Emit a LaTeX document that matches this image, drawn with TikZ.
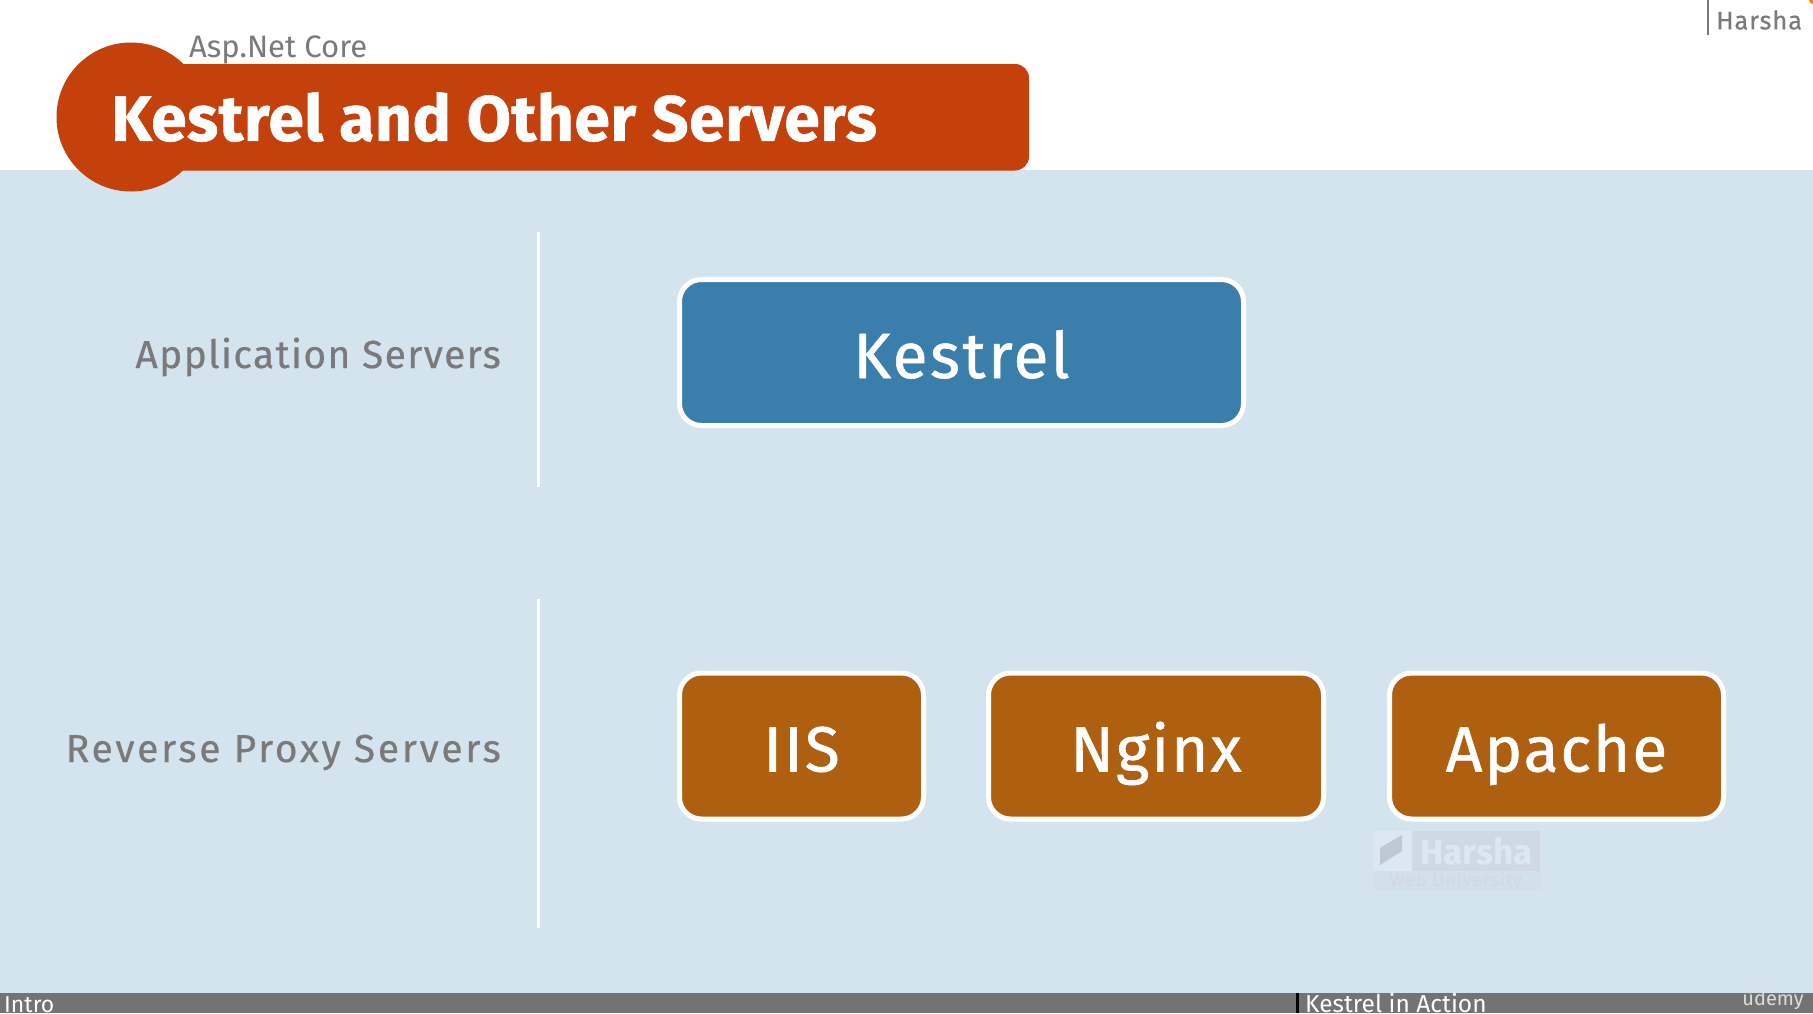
\documentclass[tikz,border=0pt]{standalone}
\usepackage{fontspec}
\usepackage{tikz}
\usetikzlibrary{positioning}
\setmainfont{Fira Sans}
\newfontfamily\heavyfont[FakeBold=1.0,LetterSpace=1]{Fira Sans Bold}
\newfontfamily\boxfont[FakeBold=0.9,LetterSpace=3]{Fira Sans}
\newfontfamily\labelfont[FakeBold=0.5,LetterSpace=3.5]{Fira Sans}

\definecolor{bgblue}{HTML}{D4E4EF}
\definecolor{titlered}{HTML}{C4410C}
\definecolor{kestrelblue}{HTML}{3A7EAB}
\definecolor{proxybrown}{HTML}{AE5F10}
\definecolor{bargray}{HTML}{737373}
\definecolor{labelgray}{HTML}{7A7A7A}
\definecolor{markpanel}{HTML}{CFD9E5}

\tikzset{
  serverbox/.style={draw=white,line width=5pt,rounded corners=22pt,text=white,
                    minimum height=146pt,inner sep=0pt,text height=51pt,text depth=0pt,
                    font=\boxfont\fontsize{64}{64}\selectfont},
  grouplabel/.style={anchor=east,text=labelgray,inner sep=0pt,text height=28pt,text depth=0pt,
                     font=\labelfont\fontsize{39}{39}\selectfont},
  barlabel/.style={anchor=base west,text=white,inner sep=0pt,font=\fontsize{24}{24}\selectfont},
  divider/.style={draw=white,line width=3pt}
}

\begin{document}
\begin{tikzpicture}[x=1pt,y=-1pt]
\useasboundingbox (0,0) rectangle (1813,1013);
\clip (0,0) rectangle (1813,1013);

% background bands
\fill[white] (0,0) rectangle (1813,170);
\fill[bgblue] (0,170) rectangle (1813,993);
\fill[bargray] (0,993) rectangle (1813,1013);
\fill[black] (1296,993) rectangle (1299,1013);

% header
\fill[titlered] (131,117) circle (74.5);
\fill[titlered,rounded corners=14pt] (131,64) rectangle (1029,170.5);
\node[anchor=west,text=white,inner sep=0pt,font=\heavyfont\fontsize{64}{64}\selectfont] (title) at (111,117) {Kestrel and Other Servers};
\node[anchor=west,text=labelgray,inner sep=0pt,font=\fontsize{31}{31}\selectfont] (course) at (189,50) {Asp.Net Core};
\node[anchor=west,text=labelgray,inner sep=0pt,font=\labelfont\fontsize{25.5}{26}\selectfont] (author) at (1716,20) {Harsha};
\coordinate (authortop) at (1708,0);
\coordinate (authorend) at (1708,35);
\draw[draw=labelgray,line width=1.5pt] (authortop) -- (authorend);
\fill[orange] (1813,0) circle (4);

% rows
\node[grouplabel] (appservers) at (501,354) {Application Servers};
\node[grouplabel] (proxyservers) at (501,748) {\addfontfeature{LetterSpace=7}Reverse Proxy Servers};

\coordinate (divA) at (538.5,232);
\coordinate (divB) at (538.5,487);
\coordinate (divC) at (538.5,599);
\coordinate (divD) at (538.5,928);
\draw[divider] (divA) -- (divB);
\draw[divider] (divC) -- (divD);

\node[serverbox,fill=kestrelblue,minimum width=564pt] (kestrel) at (961.5,352.5) {\addfontfeature{LetterSpace=4}Kestrel};
\node[serverbox,fill=proxybrown,minimum width=244pt] (iis) at (801.5,746) {IIS};
\node[serverbox,fill=proxybrown,minimum width=335pt] (nginx) [right=60pt of iis] {Nginx};
\node[serverbox,fill=proxybrown,minimum width=334pt] (apache) [right=61pt of nginx] {Apache};

% watermark
\fill[markpanel] (1373,831) rectangle (1540,871);
\fill[bgblue!85!white] (1373,831) rectangle (1412,871);
\fill[bgblue!60!markpanel] (1373,871) rectangle (1541,890);
\fill[markpanel!80!gray] (1380,848) -- (1402,835) -- (1402,851) -- (1380,865) -- cycle;
\node[anchor=west,text=bgblue!85!white,inner sep=0pt,font=\fontsize{35}{35}\selectfont\bfseries] (markname) at (1420,852) {Harsha};
\node[anchor=center,text=markpanel,inner sep=0pt,font=\fontsize{18}{18}\selectfont\addfontfeature{LetterSpace=5}] (marksub) at (1456,881) {Web University};

% bottom bar
\node[barlabel,font=\fontsize{23}{24}\selectfont] (intro) at (4,1012) {Intro};
\node[barlabel,font=\fontsize{24.5}{25}\selectfont] (action) at (1305,1012) {Kestrel in Action};
\node[anchor=east,text=white!75!bargray,inner sep=0pt,font=\fontsize{20}{20}\selectfont] (udemy) at (1804,1000) {udemy};
\draw[white!75!bargray,line width=1pt] (1747,990) arc (180:0:3);
\end{tikzpicture}
\end{document}
